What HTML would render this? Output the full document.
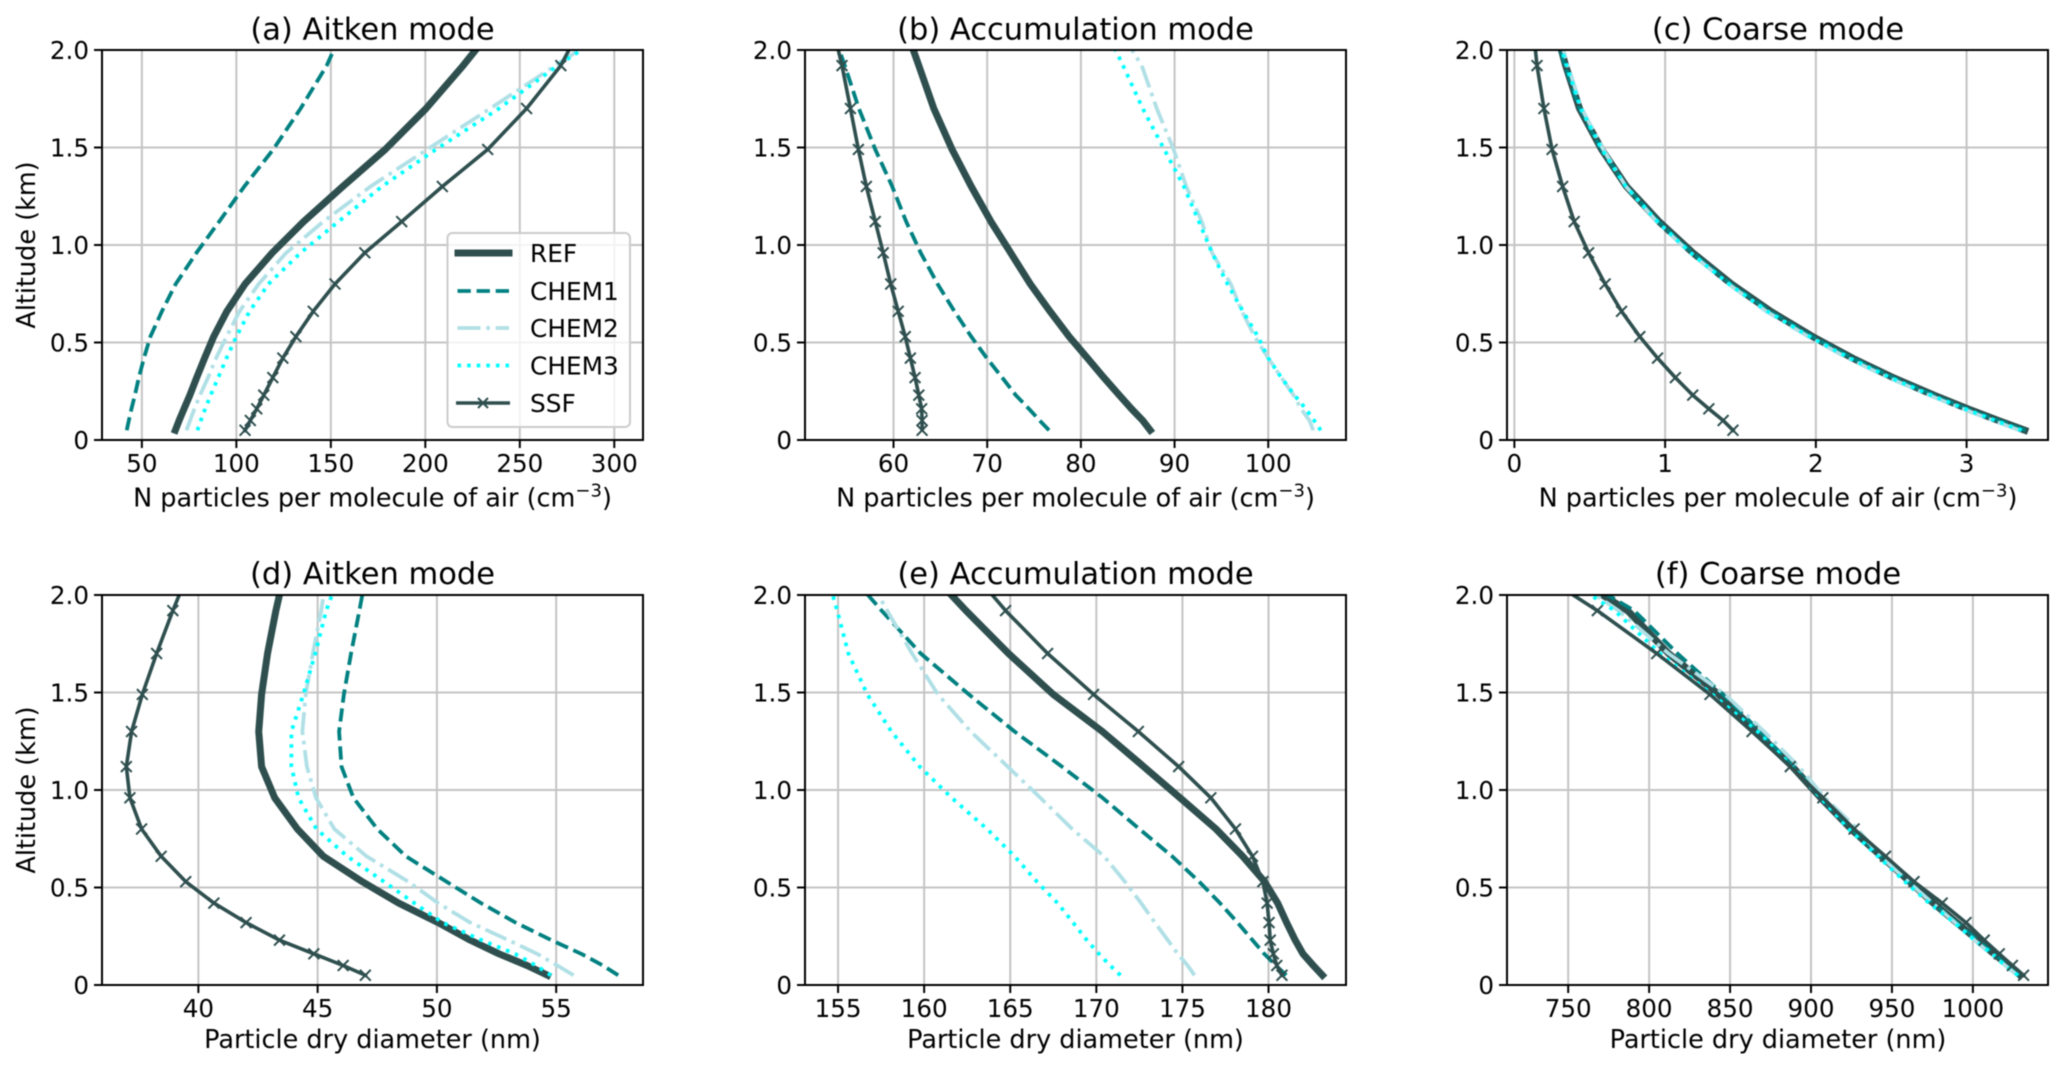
<!DOCTYPE html>
<html lang="en">
<head>
<meta charset="utf-8">
<title>Aerosol vertical profiles</title>
<style>
html,body{margin:0;padding:0;background:#fff;}
svg{display:block;filter:blur(0.5px);}
text{font-family:"DejaVu Sans","Liberation Sans",sans-serif;fill:#000;}
.title{font-size:30.5px;text-anchor:middle;}
.axlabel{font-size:25.5px;text-anchor:middle;}
.tick{font-size:24.6px;}
.leg{font-size:24.8px;}
</style>
</head>
<body>
<svg id="figure" xmlns="http://www.w3.org/2000/svg" width="2067" height="1072" viewBox="0 0 2067 1072">
  <rect width="2067" height="1072" fill="#fff"/>
  <g id="panels"></g>

  <text class="title" x="372.5" y="39.5">(a) Aitken mode</text>
  <text class="title" x="1075.5" y="39.5">(b) Accumulation mode</text>
  <text class="title" x="1778" y="39.5">(c) Coarse mode</text>
  <text class="title" x="372.5" y="584">(d) Aitken mode</text>
  <text class="title" x="1075.5" y="584">(e) Accumulation mode</text>
  <text class="title" x="1778" y="584">(f) Coarse mode</text>

  <text class="axlabel" x="372.5" y="506.5">N particles per molecule of air (cm<tspan dy="-10" font-size="18">−3</tspan><tspan dy="10">)</tspan></text>
  <text class="axlabel" x="1075.5" y="506.5">N particles per molecule of air (cm<tspan dy="-10" font-size="18">−3</tspan><tspan dy="10">)</tspan></text>
  <text class="axlabel" x="1778" y="506.5">N particles per molecule of air (cm<tspan dy="-10" font-size="18">−3</tspan><tspan dy="10">)</tspan></text>
  <text class="axlabel" x="372.5" y="1048">Particle dry diameter (nm)</text>
  <text class="axlabel" x="1075.5" y="1048">Particle dry diameter (nm)</text>
  <text class="axlabel" x="1778" y="1048">Particle dry diameter (nm)</text>
  <text class="axlabel" transform="translate(35,245) rotate(-90)">Altitude (km)</text>
  <text class="axlabel" transform="translate(35,790) rotate(-90)">Altitude (km)</text>

  <g id="legend">
    <rect x="447.5" y="233" width="182.5" height="194" rx="5" ry="5" fill="#fff" fill-opacity="0.8" stroke="#cccccc" stroke-width="2"/>
    <g>
      <line x1="458" x2="509" y1="253" y2="253" stroke="#2f4f4f" stroke-width="7" stroke-linecap="square"/>
      <text class="leg" x="530" y="262">REF</text>
    </g>
    <g>
      <line x1="457.5" x2="509" y1="291" y2="291" stroke="#008080" stroke-width="3.8" stroke-dasharray="13.3 5.8"/>
      <text class="leg" x="530" y="300">CHEM1</text>
    </g>
    <g>
      <line x1="457.5" x2="509" y1="328" y2="328" stroke="#b0e0e6" stroke-width="3.8" stroke-dasharray="23 5.8 3.6 5.8"/>
      <text class="leg" x="530" y="337">CHEM2</text>
    </g>
    <g>
      <line x1="457.5" x2="509" y1="365.5" y2="365.5" stroke="#00ffff" stroke-width="3.8" stroke-dasharray="3.6 6"/>
      <text class="leg" x="530" y="374.5">CHEM3</text>
    </g>
    <g>
      <line x1="456" x2="510" y1="403" y2="403" stroke="#2f4f4f" stroke-width="3.6"/>
      <path d="M478 398L488 408M478 408L488 398" stroke="#2f4f4f" stroke-width="2" fill="none"/>
      <text class="leg" x="530" y="412">SSF</text>
    </g>
  </g>
</svg>

<script>
/* Shared altitude levels (km) */
const altitudeLevels = [0.05,0.1,0.16,0.23,0.32,0.42,0.53,0.66,0.8,0.96,1.12,1.3,1.49,1.7,1.92,2.15];
const markerTopAltitude = 2.0;
const yTicks = [0,0.5,1,1.5,2];
const yTickLabels = ['0','0.5','1.0','1.5','2.0'];

/* Panel a: Aitken number */
const aXTicks = [50,100,150,200,250,300];
const aRef   = [67.7,69.7,72.3,75.4,79,83.2,88,95,104.6,119,135.6,156.3,178.8,200.4,220,239];
const aChem1 = [42,43.1,44.5,46.3,48.4,51.1,54.5,60.6,67.9,78.9,90.9,104.2,119.5,134,147.8,158.5];
const aChem2 = [73.6,75.5,77.8,80.8,85,89.3,94.8,101.7,111.8,126.4,146,171,201,234.3,268.8,305];
const aChem3 = [79.4,81.2,83.5,86.4,90.4,94.8,100,107,117,134,154,177,205.6,239,270,306];
const aSsf   = [104.6,107.4,110.8,114.5,119.3,124.6,131.5,140.7,152.2,168,187.5,209,233,253.6,271.7,284];

/* Panel b: Accumulation number */
const bXTicks = [60,70,80,90,100];
const bRef   = [87.4,86.6,85.4,84.1,82.45,80.7,78.75,76.7,74.6,72.5,70.4,68.3,66.25,64.3,62.7,61];
const bChem1 = [76.6,75.6,74.45,73.05,71.6,69.95,68.3,66.5,64.7,62.9,61.35,59.86,58.05,56.3,54.8,53.1];
const bChem2 = [104.8,104.4,103.5,102.7,101.4,100,98.55,97.2,96,94,92.9,91.25,89.9,88.1,86.5,83.5];
const bChem3 = [105.6,104.9,104,102.8,101.4,100,98.9,97.3,95.65,94,92.6,91,88.9,86.6,84.5,82.2];
const bSsf   = [63.05,63.05,63,62.7,62.3,61.8,61.25,60.5,59.7,58.9,58.05,57.1,56.25,55.4,54.5,53.35];

/* Panel c: Coarse number */
const cXTicks = [0,1,2,3];
const cRef   = [3.386,3.211,3.007,2.783,2.513,2.243,1.98,1.7,1.44,1.184,0.96,0.744,0.579,0.432,0.34,0.26];
const cChem1 = [3.39,3.21,3,2.78,2.51,2.24,1.975,1.695,1.435,1.18,0.955,0.743,0.578,0.432,0.335,0.25];
const cChem2 = [3.35,3.175,2.975,2.75,2.48,2.21,1.95,1.67,1.42,1.165,0.945,0.74,0.59,0.447,0.355,0.27];
const cChem3 = [3.365,3.19,2.99,2.765,2.495,2.225,1.96,1.68,1.425,1.17,0.95,0.74,0.58,0.44,0.345,0.26];
const cSsf   = [1.45,1.385,1.29,1.183,1.068,0.95,0.832,0.711,0.602,0.492,0.397,0.32,0.25,0.196,0.15,0.12];

/* Panel d: Aitken diameter */
const dXTicks = [40,45,50,55];
const dRef   = [54.64,53.78,52.6,51.4,50.05,48.4,46.87,45.24,44.15,43.2,42.65,42.53,42.65,42.9,43.25,43.68];
const dChem1 = [57.6,56.96,56.05,54.8,53.3,51.85,50.4,48.7,47.5,46.5,46,45.9,46.1,46.4,46.75,47.1];
const dChem2 = [55.73,55.05,54.2,53,51.4,50.05,48.8,47.05,45.7,44.93,44.55,44.36,44.5,44.8,45.15,45.44];
const dChem3 = [54.78,54.15,53.27,51.87,50.24,49.05,47.78,46.24,44.95,44.2,43.9,43.9,44.4,44.9,45.36,46.05];
const dSsf   = [47,46.07,44.84,43.4,42,40.65,39.47,38.44,37.62,37.13,36.98,37.2,37.65,38.25,38.93,39.7];

/* Panel e: Accumulation diameter */
const eXTicks = [155,160,165,170,175,180];
const eRef   = [183.13,182.6,182,181.55,181.05,180.53,179.77,178.5,176.95,174.86,172.75,170.35,167.5,164.9,162.43,159.99];
const eChem1 = [181.03,180.43,179.75,179.07,178.2,177.18,175.97,174.4,172.5,170.36,168,165.25,162.6,159.8,157.53,155.25];
const eChem2 = [175.7,175.3,174.73,174.15,173.4,172.6,171.66,170.45,168.6,166.75,164.85,162.7,160.8,159.3,157.85,156.4];
const eChem3 = [171.4,170.8,170.15,169.45,168.65,167.75,166.55,165.25,163.65,161.6,159.74,158.1,156.7,155.6,154.95,154.2];
const eSsf   = [180.78,180.48,180.28,180.1,180.03,179.92,179.67,179.07,178.08,176.65,174.78,172.44,169.84,167.17,164.73,162.5];

/* Panel f: Coarse diameter */
const fXTicks = [750,800,850,900,950,1000];
const fRef   = [1029.2,1022,1013,1003,990,975.6,961,943.5,924.7,906,888.5,865.8,843,812,786.7,742];
const fChem1 = [1029,1022,1013,1003,990,975,960.5,943,925,906.5,889,868.4,845.7,817.5,790.7,744];
const fChem2 = [1027.5,1020,1011,1001,989,975,960,943,928.7,908.6,892.5,871,847,812,781,740];
const fChem3 = [1027.9,1019.8,1012,1001,988.5,973,958,941.3,923.4,906,888.5,867,839,806.8,778.7,736];
const fSsf   = [1031.3,1024.4,1016.3,1007,995.7,981,963.6,946,926.6,907.3,887.2,863.6,837.6,804.7,768,725];

const aXRange = [28.9,315.2];
const bXRange = [50.55,108.3];
const cXRange = [-0.049,3.54];
const dXRange = [35.96,58.64];
const eXRange = [153.08,184.5];
const fXRange = [712.2,1046.4];

const SVGNS = 'http://www.w3.org/2000/svg';
function mk(tag, attrs, parent) {
  const el = document.createElementNS(SVGNS, tag);
  Object.keys(attrs).forEach(function (k) { el.setAttribute(k, attrs[k]); });
  parent.appendChild(el);
  return el;
}

const seriesStyles = {
  ref:   {stroke:'#2f4f4f', width:7,   dash:null, cap:'square'},
  chem1: {stroke:'#008080', width:3.8, dash:'13.3 5.8', cap:'butt'},
  chem2: {stroke:'#b0e0e6', width:3.8, dash:'23 5.8 3.6 5.8', cap:'butt'},
  chem3: {stroke:'#00ffff', width:3.8, dash:'3.6 6', cap:'butt'},
  ssf:   {stroke:'#2f4f4f', width:3.6, dash:null, cap:'square'}
};

function drawPanel(id, box, xRange, xTicks, series) {
  const root = document.getElementById('panels');
  const g = mk('g', {}, root);
  
  

  const xScale = function (v) { return box.left + (v - xRange[0]) / (xRange[1] - xRange[0]) * box.width; };
  const yScale = function (a) { return box.top + box.height - a / 2 * box.height; };

  const clip = mk('clipPath', {id:'clip-' + id}, g);
  mk('rect', {x:box.left, y:box.top, width:box.width, height:box.height}, clip);

  xTicks.forEach(function (t) {
    const x = xScale(t);
    const grid = mk('line', {x1:x, x2:x, y1:box.top, y2:box.top + box.height, stroke:'#c4c4c4', 'stroke-width':2}, g);
    
    
  });
  yTicks.forEach(function (t) {
    const y = yScale(t);
    const grid = mk('line', {x1:box.left, x2:box.left + box.width, y1:y, y2:y, stroke:'#c4c4c4', 'stroke-width':2}, g);
    
    
  });

  const marks = mk('g', {'clip-path':'url(#clip-' + id + ')'}, g);
  
  

  ['ref','chem1','chem2','chem3','ssf'].forEach(function (key) {
    const style = seriesStyles[key];
    const values = series[key];
    const pts = values.map(function (v, i) { return xScale(v).toFixed(2) + ',' + yScale(altitudeLevels[i]).toFixed(2); }).join(' ');
    const attrs = {points:pts, fill:'none', stroke:style.stroke, 'stroke-width':style.width, 'stroke-linecap':style.cap, 'stroke-linejoin':'round'};
    if (style.dash) attrs['stroke-dasharray'] = style.dash;
    const line = mk('polyline', attrs, marks);
    
    
    if (key === 'ssf') {
      values.forEach(function (v, i) {
        if (altitudeLevels[i] > markerTopAltitude) return;
        const x = xScale(v), y = yScale(altitudeLevels[i]), r = 5.4;
        const d = 'M' + (x - r) + ' ' + (y - r) + 'L' + (x + r) + ' ' + (y + r) + 'M' + (x - r) + ' ' + (y + r) + 'L' + (x + r) + ' ' + (y - r);
        const m = mk('path', {d:d, stroke:style.stroke, 'stroke-width':2, fill:'none'}, g);
        
        
      });
    }
  });

  const bottom = box.top + box.height;
  xTicks.forEach(function (t, i) {
    const x = xScale(t);
    const tick = mk('line', {x1:x, x2:x, y1:bottom, y2:bottom + 8, stroke:'#000', 'stroke-width':2}, g);
    
    
    const label = mk('text', {x:x, y:bottom + 32, 'text-anchor':'middle', 'class':'tick'}, g);
    label.textContent = String(xTicks[i]);
    
    
  });
  yTicks.forEach(function (t, i) {
    const y = yScale(t);
    const tick = mk('line', {x1:box.left - 8, x2:box.left, y1:y, y2:y, stroke:'#000', 'stroke-width':2}, g);
    
    
    const label = mk('text', {x:box.left - 13, y:y + 9, 'text-anchor':'end', 'class':'tick'}, g);
    label.textContent = yTickLabels[i];
    
    
  });

  const frame = mk('rect', {x:box.left, y:box.top, width:box.width, height:box.height, fill:'none', stroke:'#000', 'stroke-width':2}, g);
  
  
}

drawPanel('a', {left:102, top:50, width:541, height:390}, aXRange, aXTicks, {ref:aRef, chem1:aChem1, chem2:aChem2, chem3:aChem3, ssf:aSsf});
drawPanel('b', {left:805, top:50, width:541, height:390}, bXRange, bXTicks, {ref:bRef, chem1:bChem1, chem2:bChem2, chem3:bChem3, ssf:bSsf});
drawPanel('c', {left:1507, top:50, width:541, height:390}, cXRange, cXTicks, {ref:cRef, chem1:cChem1, chem2:cChem2, chem3:cChem3, ssf:cSsf});
drawPanel('d', {left:102, top:595, width:541, height:390}, dXRange, dXTicks, {ref:dRef, chem1:dChem1, chem2:dChem2, chem3:dChem3, ssf:dSsf});
drawPanel('e', {left:805, top:595, width:541, height:390}, eXRange, eXTicks, {ref:eRef, chem1:eChem1, chem2:eChem2, chem3:eChem3, ssf:eSsf});
drawPanel('f', {left:1507, top:595, width:541, height:390}, fXRange, fXTicks, {ref:fRef, chem1:fChem1, chem2:fChem2, chem3:fChem3, ssf:fSsf});
</script>
</body>
</html>
